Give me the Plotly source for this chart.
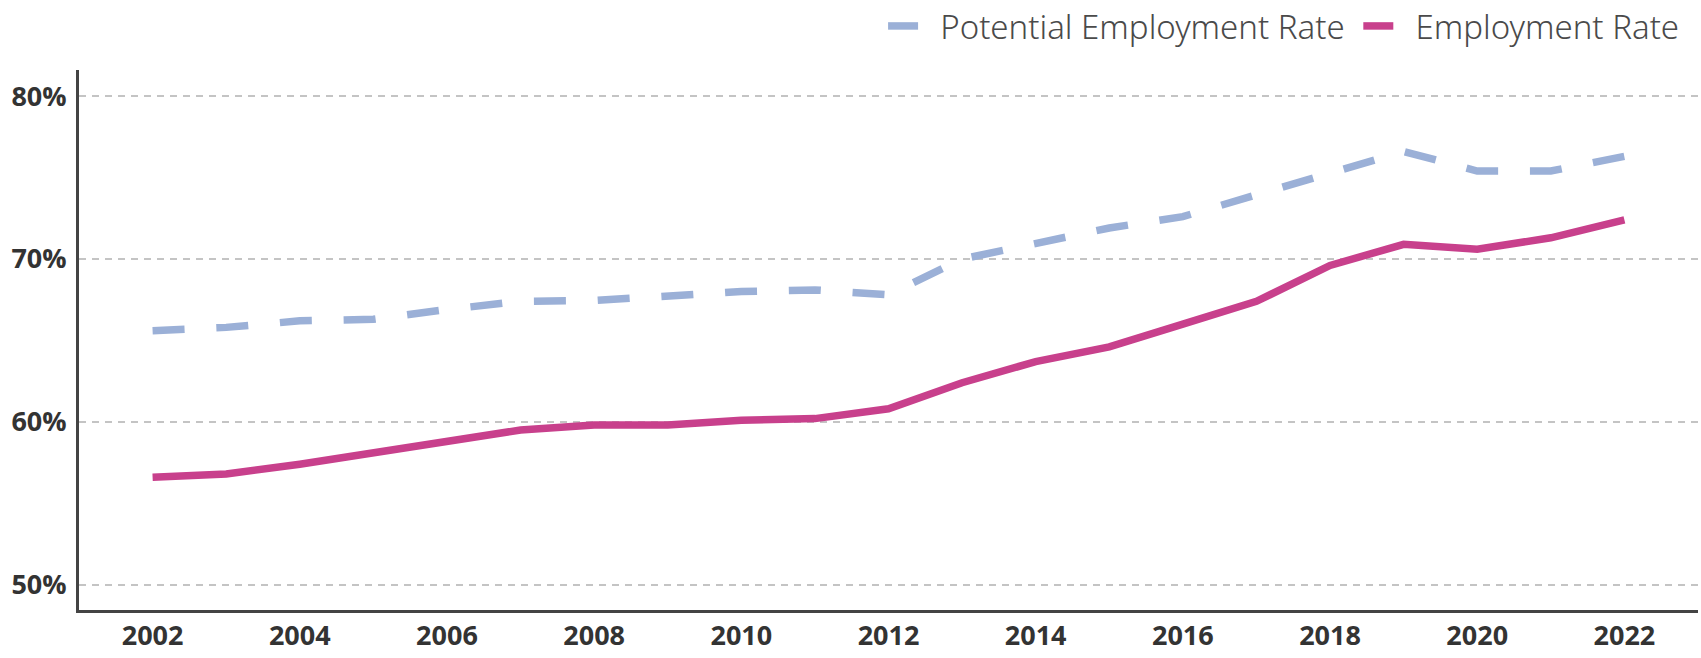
import plotly.graph_objects as go

# Employment rate series, 2002-2022 (percent)
years = list(range(2002, 2023))
potential_rate = [65.6, 65.8, 66.2, 66.3, 66.9, 67.4, 67.45, 67.7, 68.0, 68.1, 67.8,
                  70.0, 71.0, 71.9, 72.6, 73.9, 75.3, 76.6, 75.4, 75.4, 76.3]
employment_rate = [56.6, 56.8, 57.4, 58.1, 58.8, 59.5, 59.8, 59.8, 60.1, 60.2, 60.8,
                   62.4, 63.7, 64.6, 66.0, 67.4, 69.6, 70.9, 70.6, 71.3, 72.4]

x_ticks = list(range(2002, 2023, 2))
y_ticks = [50, 60, 70, 80]
y_tick_labels = ["50%", "60%", "70%", "80%"]

BLUE = "rgb(155,176,215)"
PINK = "rgb(200,64,140)"
INK = "#333333"
PAD = "\u00a0\u00a0"  # spacing between legend swatch and label

fig = go.Figure()
fig.add_trace(go.Scatter(
    x=years, y=potential_rate, mode="lines",
    name=PAD + "Potential Employment Rate" + "\u00a0",
    line=dict(color=BLUE, width=7.5, dash="32px,31.8px"),
))
fig.add_trace(go.Scatter(
    x=years, y=employment_rate, mode="lines", name=PAD + "Employment Rate",
    line=dict(color=PINK, width=7.5),
))

fig.update_layout(
    width=1701, height=658,
    margin=dict(l=79, r=3, t=70, b=48, autoexpand=False),
    paper_bgcolor="white", plot_bgcolor="white",
    showlegend=True,
    legend=dict(
        orientation="h", x=0.9914, xanchor="right", y=1.0815, yanchor="middle",
        font=dict(family="Noto Sans", size=33, color="#4a4a4a", weight=300),
        itemwidth=30, traceorder="normal",
    ),
)

fig.update_xaxes(
    range=[2001, 2023], tickvals=x_ticks, ticktext=[str(v) for v in x_ticks],
    showgrid=False, zeroline=False, automargin=False,
    showline=True, linecolor="#444444", linewidth=3,
    ticks="",
    tickfont=dict(family="Open Sans", size=27, color=INK, weight="bold"),
)
fig.update_yaxes(
    range=[48.45, 81.6], tickvals=y_ticks, ticktext=y_tick_labels,
    showgrid=True, gridcolor="#c4c4c4", gridwidth=2, griddash="7px,6px",
    zeroline=False, automargin=False,
    showline=True, linecolor="#444444", linewidth=3,
    ticks="outside", ticklen=4, tickcolor="rgba(0,0,0,0)",
    tickfont=dict(family="Open Sans", size=27, color=INK, weight="bold"),
)

fig.write_html("out.html")
